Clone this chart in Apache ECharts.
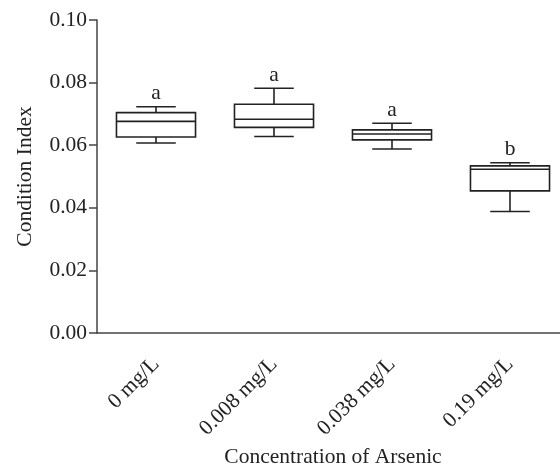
<!DOCTYPE html>
<html>
<head>
<meta charset="utf-8">
<script src="https://cdn.jsdelivr.net/npm/echarts@6/dist/echarts.min.js"></script>
<style>
  html, body { margin: 0; padding: 0; background: #fff; }
  #chart { width: 560px; height: 469px; }
</style>
</head>
<body>
<div id="chart"></div>
<script>
// 砷浓度与条件指数箱线图
var categories = ["0 mg/L", "0.008 mg/L", "0.038 mg/L", "0.19 mg/L"];
var whiskerLow = [0.0607, 0.0628, 0.0588, 0.0388];
var q1 = [0.0626, 0.0657, 0.0617, 0.0454];
var median = [0.0676, 0.0683, 0.0636, 0.0523];
var q3 = [0.0704, 0.0731, 0.0649, 0.0534];
var whiskerHigh = [0.0723, 0.0782, 0.0670, 0.0544];
var letters = ["a", "a", "a", "b"];
var yTicks = [0, 0.02, 0.04, 0.06, 0.08, 0.10];

(function () {
  var myChart = echarts.init(document.getElementById("chart"));
  var font = "Liberation Serif";
  var ink = "#222";
  var fs = 21.5;

  var boxData = categories.map(function (c, i) {
    return [i, whiskerLow[i], q1[i], median[i], q3[i], whiskerHigh[i]];
  });

  function renderBox(params, api) {
    var i = api.value(0);
    var pLow = api.coord([i, api.value(1)]);
    var pQ1 = api.coord([i, api.value(2)]);
    var pMed = api.coord([i, api.value(3)]);
    var pQ3 = api.coord([i, api.value(4)]);
    var pHigh = api.coord([i, api.value(5)]);
    var band = api.size([1, 0])[0];
    var bw = band * 0.67;
    var cap = bw / 2;
    var cx = pMed[0];
    var line = { stroke: ink, lineWidth: 1.6 };
    return {
      type: "group",
      children: [
        { type: "line", shape: { x1: cx, y1: pLow[1], x2: cx, y2: pQ1[1] }, style: line },
        { type: "line", shape: { x1: cx, y1: pQ3[1], x2: cx, y2: pHigh[1] }, style: line },
        { type: "line", shape: { x1: cx - cap / 2, y1: pLow[1], x2: cx + cap / 2, y2: pLow[1] }, style: line },
        { type: "line", shape: { x1: cx - cap / 2, y1: pHigh[1], x2: cx + cap / 2, y2: pHigh[1] }, style: line },
        {
          type: "rect",
          shape: { x: cx - bw / 2, y: pQ3[1], width: bw, height: pQ1[1] - pQ3[1] },
          style: { fill: "#fff", stroke: ink, lineWidth: 1.6 }
        },
        { type: "line", shape: { x1: cx - bw / 2, y1: pMed[1], x2: cx + bw / 2, y2: pMed[1] }, style: line },
        {
          type: "text",
          style: {
            text: letters[params.dataIndex],
            x: cx,
            y: pHigh[1] - 2,
            align: "center",
            verticalAlign: "bottom",
            fill: ink,
            fontSize: fs,
            fontFamily: font
          }
        }
      ]
    };
  }

  var option = {
    animation: false,
    grid: {
      left: 97,
      top: 20,
      right: -9,
      bottom: 136,
      outerBoundsMode: "none"
    },
    xAxis: {
      type: "category",
      data: categories,
      name: "Concentration of Arsenic",
      nameLocation: "middle",
      nameGap: 112,
      nameTextStyle: { color: ink, fontSize: fs, fontFamily: font },
      axisLine: { lineStyle: { color: "#444", width: 1.5 } },
      axisTick: { alignWithLabel: true, length: 8, lineStyle: { color: "#444", width: 1.5 } },
      axisLabel: {
        rotate: 45,
        margin: 28,
        color: ink,
        fontSize: fs,
        fontFamily: font
      }
    },
    yAxis: {
      type: "value",
      min: 0,
      max: 0.1,
      interval: 0.02,
      name: "Condition Index",
      nameLocation: "middle",
      nameGap: 61,
      nameTextStyle: { color: ink, fontSize: fs, fontFamily: font },
      axisLine: { show: true, lineStyle: { color: "#444", width: 1.5 } },
      axisTick: { show: true, length: 8, lineStyle: { color: "#444", width: 1.5 } },
      splitLine: { show: false },
      axisLabel: {
        margin: 10,
        color: ink,
        fontSize: fs,
        fontFamily: font,
        formatter: function (v) {
          var idx = yTicks.findIndex(function (t) { return Math.abs(t - v) < 1e-9; });
          return idx >= 0 ? yTicks[idx].toFixed(2) : "";
        }
      }
    },
    series: [
      {
        type: "custom",
        renderItem: renderBox,
        encode: { x: 0, y: [1, 5] },
        data: boxData
      }
    ]
  };

  myChart.setOption(option);
  window.addEventListener("resize", function () {
    myChart.resize();
  });
})();
</script>
</body>
</html>
